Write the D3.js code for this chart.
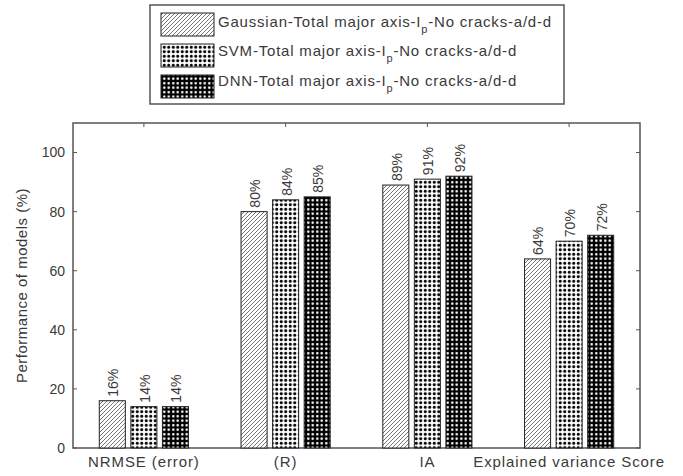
<!DOCTYPE html>
<html><head><meta charset="utf-8">
<script src="https://cdn.jsdelivr.net/npm/d3@7"></script>
<style>
html,body{margin:0;padding:0;background:#fff;}
svg{display:block;font-family:"Liberation Sans",Arial,sans-serif;}
</style></head>
<body><svg id="chart" width="683" height="476"></svg>
<script>
const categories = ["NRMSE (error)", "(R)", "IA", "Explained variance Score"];
const seriesNames = ["Gaussian", "SVM", "DNN"];
const gaussianValues = [16, 80, 89, 64];
const svmValues = [14, 84, 91, 70];
const dnnValues = [14, 85, 92, 72];
const yTicks = [0, 20, 40, 60, 80, 100];
const legendLabels = [
  ["Gaussian-Total major axis-I", "p", "-No cracks-a/d-d"],
  ["SVM-Total major axis-I", "p", "-No cracks-a/d-d"],
  ["DNN-Total major axis-I", "p", "-No cracks-a/d-d"]
];
const seriesValues = [gaussianValues, svmValues, dnnValues];
const fills = ["url(#hatch)", "url(#dotsB)", "url(#dotsW)"];

const svg = d3.select("#chart");
const M = {left: 73, right: 640, top: 123, bottom: 448};
const axisColor = "#555", textColor = "#3a3a3a";

// patterns
const defs = svg.append("defs");
const h = defs.append("pattern").attr("id","hatch").attr("patternUnits","userSpaceOnUse").attr("width",4).attr("height",4);
h.append("rect").attr("width",4).attr("height",4).attr("fill","#fff");
h.append("path").attr("d","M-1,1 l2,-2 M0,4 l4,-4 M3,5 l2,-2").attr("stroke","#666").attr("stroke-width",0.9);
const pb = defs.append("pattern").attr("id","dotsB").attr("patternUnits","userSpaceOnUse").attr("width",4.5).attr("height",4.5);
pb.append("rect").attr("width",4.5).attr("height",4.5).attr("fill","#fff");
pb.append("circle").attr("cx",2.25).attr("cy",2.25).attr("r",1.55).attr("fill","#000");
const pw = defs.append("pattern").attr("id","dotsW").attr("patternUnits","userSpaceOnUse").attr("width",4.5).attr("height",4.5);
pw.append("rect").attr("width",4.5).attr("height",4.5).attr("fill","#000");
pw.append("circle").attr("cx",2.25).attr("cy",2.25).attr("r",1.25).attr("fill","#fff");

const x = d3.scaleBand().domain(categories).range([M.left, M.right]).padding(0);
const xs = d3.scaleBand().domain(seriesNames).range([0, x.bandwidth()]).paddingInner(0.175).paddingOuter(0.833);
const y = d3.scaleLinear().domain([0, 110]).range([M.bottom, M.top]);

// box
svg.append("rect").attr("x",M.left).attr("y",M.top).attr("width",M.right-M.left).attr("height",M.bottom-M.top)
  .attr("fill","none").attr("stroke",axisColor).attr("stroke-width",1.5);

// y ticks (inward, both sides)
const tl = 4;
yTicks.forEach(t => {
  svg.append("line").attr("x1",M.left).attr("x2",M.left+tl).attr("y1",y(t)).attr("y2",y(t)).attr("stroke",axisColor);
  svg.append("line").attr("x1",M.right).attr("x2",M.right-tl).attr("y1",y(t)).attr("y2",y(t)).attr("stroke",axisColor);
  svg.append("text").attr("x",M.left-8).attr("y",y(t)).attr("dy","0.35em").attr("text-anchor","end")
    .attr("font-size",14).attr("fill",textColor).text(t);
});
// x ticks
categories.forEach(c => {
  const cx = x(c) + x.bandwidth()/2;
  svg.append("line").attr("x1",cx).attr("x2",cx).attr("y1",M.top).attr("y2",M.top+tl).attr("stroke",axisColor);
  svg.append("line").attr("x1",cx).attr("x2",cx).attr("y1",M.bottom).attr("y2",M.bottom-tl).attr("stroke",axisColor);
  svg.append("text").attr("x",cx).attr("y",467).attr("text-anchor","middle").attr("font-size",15)
    .attr("letter-spacing","0.9px").attr("fill",textColor).text(c);
});

// bars
seriesNames.forEach((s, si) => {
  const g = svg.append("g");
  g.selectAll("rect").data(seriesValues[si]).join("rect")
    .attr("x",(d,i)=>x(categories[i]) + xs(s))
    .attr("y",d=>y(d))
    .attr("width",xs.bandwidth())
    .attr("height",d=>y(0)-y(d))
    .attr("fill",fills[si]).attr("stroke","#222").attr("stroke-width",1);
  g.selectAll("text").data(seriesValues[si]).join("text")
    .attr("transform",(d,i)=>`translate(${x(categories[i]) + xs(s) + xs.bandwidth()/2 + 1},${y(d)-4}) rotate(-90)`)
    .attr("dy","0.35em").attr("font-size",14).attr("fill",textColor).text(d=>d+"%");
});

// y title
svg.append("text").attr("transform",`translate(22,${(M.top+M.bottom)/2}) rotate(-90)`)
  .attr("dy","0.35em").attr("text-anchor","middle").attr("font-size",15).attr("letter-spacing","0.5px")
  .attr("fill",textColor).text("Performance of models (%)");

// legend
svg.append("rect").attr("x",150).attr("y",5).attr("width",414).attr("height",99)
  .attr("fill","#fff").attr("stroke",axisColor).attr("stroke-width",1.5);
const rowTops = [13, 44, 75];
const baselines = [27, 56, 86];
legendLabels.forEach((lab, i) => {
  svg.append("rect").attr("x",161).attr("y",rowTops[i]).attr("width",53).attr("height",23)
    .attr("fill",fills[i]).attr("stroke","#222").attr("stroke-width",1);
  const t = svg.append("text").attr("x",218).attr("y",baselines[i]).attr("font-size",15)
    .attr("letter-spacing","0.8px").attr("fill",textColor);
  t.append("tspan").text(lab[0]);
  t.append("tspan").attr("dy",6).attr("font-size",11).text(lab[1]);
  t.append("tspan").attr("dy",-6).text(lab[2]);
});
</script></body></html>
